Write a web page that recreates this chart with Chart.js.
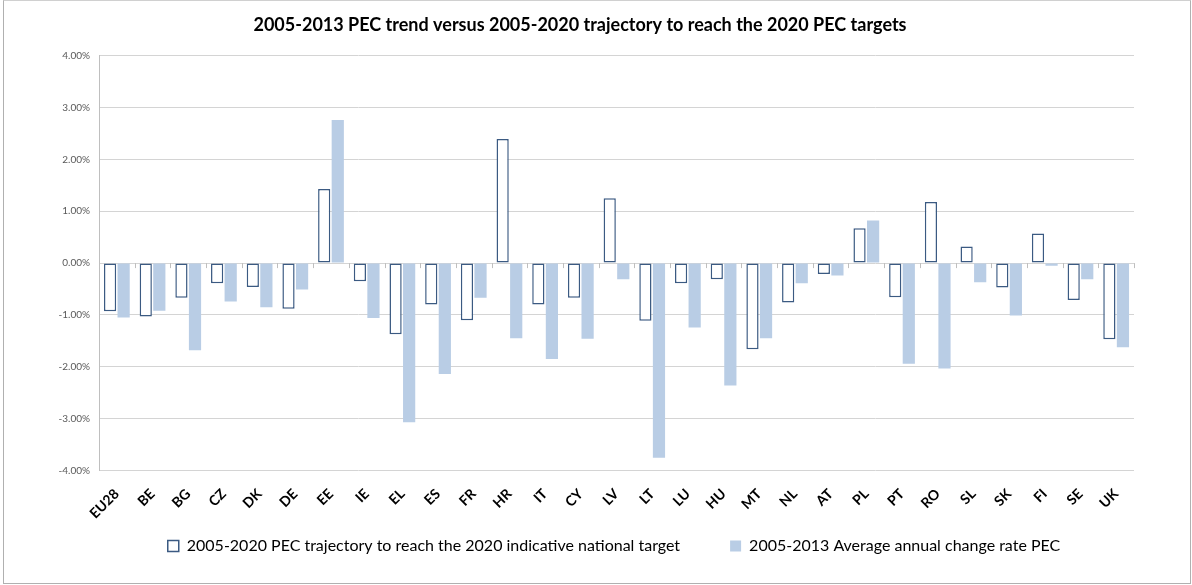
<!DOCTYPE html>
<html>
<head>
<meta charset="utf-8">
<script src="https://cdn.jsdelivr.net/npm/chart.js@4/dist/chart.umd.min.js"></script>
<style>
  html, body { margin:0; padding:0; background:#fff; }
  #frame { position:absolute; left:3px; top:0; width:1186px; height:582px; border:1px solid #b0b0b0; border-top-color:#d0d0d0; }
  #frame canvas { display:block; }
</style>
</head>
<body>
<div id="frame"><canvas id="pec" width="1186" height="582"></canvas></div>
<script>
// categories and series (percent)
const COUNTRIES = ['EU28','BE','BG','CZ','DK','DE','EE','IE','EL','ES','FR','HR','IT','CY','LV','LT','LU','HU','MT','NL','AT','PL','PT','RO','SL','SK','FI','SE','UK'];
const TRAJECTORY_2020 = [-0.93,-1.03,-0.67,-0.39,-0.46,-0.88,1.43,-0.35,-1.37,-0.80,-1.10,2.39,-0.80,-0.67,1.25,-1.11,-0.39,-0.31,-1.66,-0.76,-0.21,0.67,-0.66,1.18,0.32,-0.47,0.57,-0.71,-1.47];
const TREND_2013 = [-1.05,-0.92,-1.68,-0.74,-0.85,-0.51,2.76,-1.06,-3.07,-2.14,-0.67,-1.45,-1.85,-1.46,-0.31,-3.75,-1.24,-2.36,-1.45,-0.39,-0.24,0.82,-1.94,-2.03,-0.37,-1.01,-0.05,-0.31,-1.62];
const Y_MIN = -4, Y_MAX = 4, Y_STEP = 1;

const FONT = 'Lato, "Open Sans", sans-serif';

// small tick marks on the zero line between categories, like the Excel axis
const zeroAxisTicks = {
  id: 'zeroAxisTicks',
  afterDatasetsDraw(chart){
    const x = chart.scales.x, y = chart.scales.y;
    const y0 = y.getPixelForValue(0);
    const ctx = chart.ctx;
    ctx.save();
    ctx.strokeStyle = '#bfbfbf';
    ctx.lineWidth = 1;
    ctx.beginPath();
    for (let i = 0; i <= COUNTRIES.length; i++){
      const px = Math.round(x.getPixelForValue(i - 0.5)) + 0.5;
      ctx.moveTo(px, y0);
      ctx.lineTo(px, y0 + 5);
    }
    ctx.stroke();
    ctx.restore();
  }
};

// title and legend are not centred on the same point in the original,
// and the wide legend padding would push the row too low
const shiftBlocks = {
  id: 'shiftBlocks',
  afterLayout(chart){
    if (chart.titleBlock){ chart.titleBlock.left += 11; chart.titleBlock.right += 11; }
    if (chart.legend){
      chart.legend.left += 45; chart.legend.right += 45;
      chart.legend.top -= 41; chart.legend.bottom -= 41;
    }
  }
};

new Chart(document.getElementById('pec'), {
  type: 'bar',
  data: {
    labels: COUNTRIES,
    datasets: [
      {
        label: '2005-2020 PEC trajectory to reach the 2020 indicative national target',
        data: TRAJECTORY_2020,
        backgroundColor: '#ffffff',
        borderColor: '#3b5a82',
        borderWidth: 1.5,
        borderSkipped: false
      },
      {
        label: '2005-2013 Average annual change rate PEC',
        data: TREND_2013,
        backgroundColor: '#b9cde5',
        borderWidth: 0
      }
    ]
  },
  options: {
    responsive: false,
    animation: false,
    layout: { padding: { left: 0, right: 56, top: 0, bottom: -22 } },
    datasets: { bar: { categoryPercentage: 0.76, barPercentage: 0.9 } },
    plugins: {
      title: {
        display: true,
        text: '2005-2013 PEC trend versus 2005-2020 trajectory to reach the 2020 PEC targets',
        color: '#000',
        font: { family: FONT, size: 18, weight: 'bold' },
        padding: { top: 13, bottom: 20 }
      },
      legend: {
        position: 'bottom',
        labels: {
          color: '#000',
          font: { family: FONT, size: 16 },
          boxWidth: 11,
          boxHeight: 11,
          padding: 50
        }
      },
      tooltip: { enabled: false }
    },
    scales: {
      x: {
        grid: { display: false },
        border: { display: false },
        ticks: {
          color: '#000',
          font: { family: FONT, size: 14, weight: 'bold' },
          minRotation: 45,
          maxRotation: 45,
          autoSkip: false,
          padding: 7
        }
      },
      y: {
        min: Y_MIN,
        max: Y_MAX,
        afterFit(scale){ scale.width = 95; },
        grid: { color: '#d4d4d4', lineWidth: 1, drawTicks: false },
        border: { display: true, color: '#bfbfbf' },
        ticks: {
          stepSize: Y_STEP,
          padding: 9,
          color: '#595959',
          font: { family: FONT, size: 10 },
          callback: v => v.toFixed(2) + '%'
        }
      }
    }
  },
  plugins: [zeroAxisTicks, shiftBlocks]
});
</script>
</body>
</html>
